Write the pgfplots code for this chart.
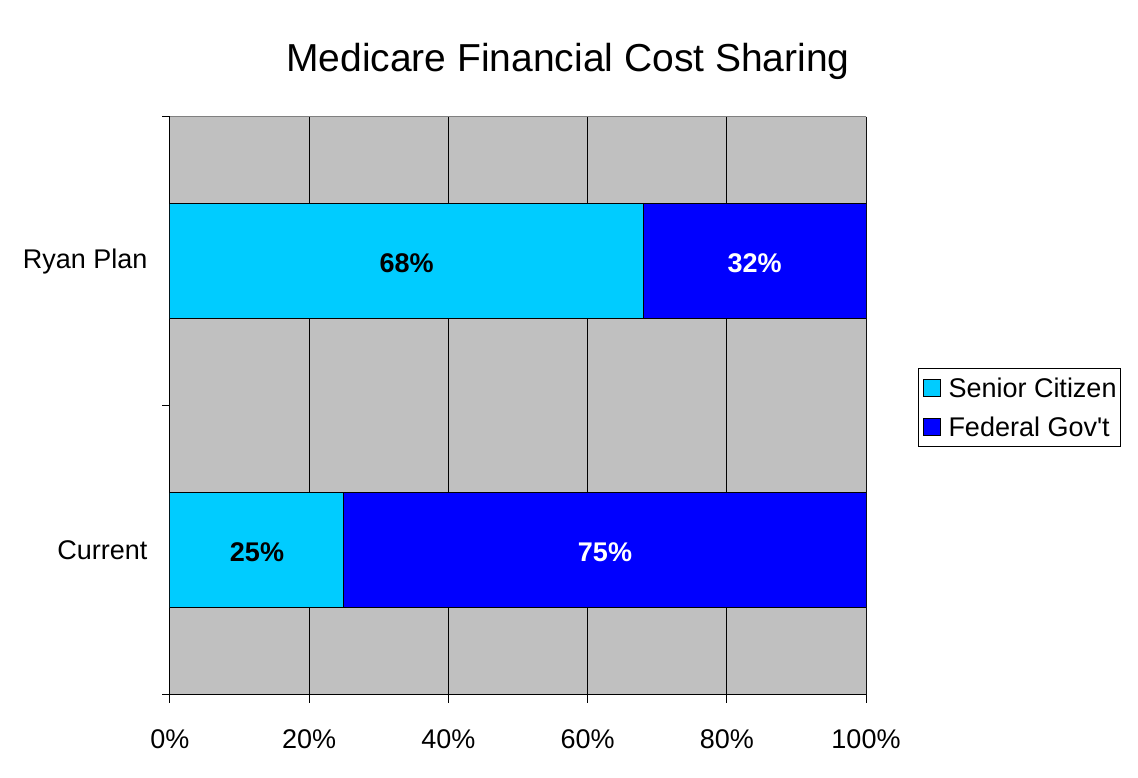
\documentclass[border=0pt]{standalone}
\usepackage{pgfplots}
\pgfplotsset{compat=1.18}
\usepackage{fontspec}
\setmainfont{Liberation Sans}
\definecolor{plotgray}{HTML}{C0C0C0}
\definecolor{senior}{HTML}{00CCFF}
\definecolor{federal}{HTML}{0000FF}
\begin{document}
\begin{tikzpicture}[x=1pt,y=1pt]
\useasboundingbox (-170pt,-83pt) rectangle (968pt,695pt);
\begin{axis}[
    scale only axis,
    width=696pt, height=578pt,
    xbar stacked,
    bar width=115pt,
    xmin=0, xmax=100,
    ymin=-0.5, ymax=1.5,
    axis x line*=bottom, axis y line*=left,
    axis line style={line width=1pt},
    axis background/.style={fill=plotgray},
    xtick={0,20,40,60,80,100},
    xticklabels={0\%,20\%,40\%,60\%,80\%,100\%},
    xmajorgrids,
    major grid style={black,line width=1pt},
    ytick={-0.5,0.5,1.5},
    yticklabels={},
    extra y ticks={0,1},
    extra y tick labels={Current,Ryan Plan},
    extra y tick style={major tick length=0pt, grid=none},
    tick align=outside,
    major tick length=8pt,
    tick style={black,line width=1pt},
    tick label style={font=\fontsize{27}{31}\selectfont},
    xticklabel style={yshift=-23pt},
    yticklabel style={xshift=-19pt},
    legend style={at={(1.0747,0.5657)}, anchor=north west, draw=black,
        line width=1pt, font=\fontsize{27}{31}\selectfont,
        inner xsep=2pt, inner ysep=7pt, row sep=14pt,
        legend cell align=left},
    legend image code/.code={\fill[#1,draw=black,line width=1pt] (3pt,-8pt) rectangle (20pt,9pt);
        \path[draw=none,fill=none] (0pt,0pt) -- (26pt,0pt);},
]
\addplot[fill=senior, draw=black, line width=1pt] coordinates {(25,0) (68,1)};
\addlegendentry{Senior Citizen}
\addplot[fill=federal, draw=black, line width=1pt] coordinates {(75,0) (32,1)};
\addlegendentry{Federal Gov\textquotesingle t}
\draw[gray,line width=1pt] (rel axis cs:0,1) -- (rel axis cs:1,1) -- (rel axis cs:1,0);
\coordinate (la) at (axis cs:34,1);
\coordinate (lb) at (axis cs:84,1);
\coordinate (lc) at (axis cs:12.5,0);
\coordinate (ld) at (axis cs:62.5,0);
\end{axis}
\node[font=\fontsize{27}{31}\selectfont\bfseries,text=black,yshift=-2pt] at (la) {68\%};
\node[font=\fontsize{27}{31}\selectfont\bfseries,text=white,yshift=-2pt] at (lb) {32\%};
\node[font=\fontsize{27}{31}\selectfont\bfseries,text=black,yshift=-2pt] at (lc) {25\%};
\node[font=\fontsize{27}{31}\selectfont\bfseries,text=white,yshift=-2pt] at (ld) {75\%};
\node[font=\fontsize{39}{44}\selectfont] at (398pt,634pt) {Medicare Financial Cost Sharing};
\end{tikzpicture}
\end{document}
